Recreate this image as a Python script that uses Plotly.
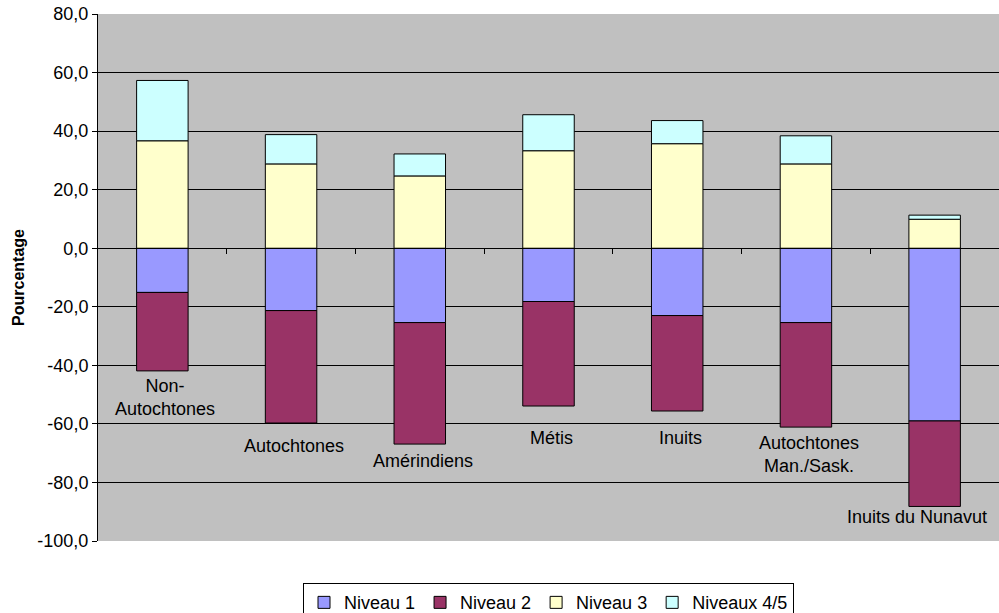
import plotly.graph_objects as go

categories = ["Non-<br>Autochtones", "Autochtones", "Amérindiens", "Métis", "Inuits",
              "Autochtones<br>Man./Sask.", "Inuits du Nunavut"]
niveau_1 = [-15.1, -21.3, -25.4, -18.2, -23.0, -25.4, -59.0]
niveau_2 = [-26.8, -38.4, -41.5, -35.7, -32.6, -35.7, -29.2]
niveau_3 = [36.7, 28.8, 24.7, 33.3, 35.7, 28.8, 9.9]
niveaux_45 = [20.6, 10.0, 7.5, 12.3, 7.9, 9.6, 1.4]
# where the category names sit (data units), as placed on the original
label_y = [-51.1, -67.6, -72.7, -64.8, -64.8, -70.3, -91.9]

y_ticks = [80, 60, 40, 20, 0, -20, -40, -60, -80, -100]
y_ticktext = [("%.1f" % v).replace(".", ",") for v in y_ticks]

xs = list(range(len(categories)))
FONT = "Liberation Sans, Arial, sans-serif"

series = [
    ("Niveau 1", niveau_1, "#9999ff"),
    ("Niveau 2", niveau_2, "#993366"),
    ("Niveau 3", niveau_3, "#ffffcc"),
    ("Niveaux 4/5", niveaux_45, "#ccffff"),
]

fig = go.Figure()
for name, vals, color in series:
    fig.add_trace(go.Bar(x=xs, y=vals, name=name, width=0.4,
                         marker=dict(color=color, line=dict(color="black", width=1))))

# category names inside the plot, below each bar
for i, cat in enumerate(categories):
    fig.add_annotation(x=i, y=label_y[i], text=cat, showarrow=False,
                       xref="x", yref="y", yanchor="middle",
                       xshift=-18 if i == len(categories) - 1 else 3,
                       font=dict(family=FONT, size=18, color="black"))

fig.update_layout(
    barmode="relative",
    width=999, height=613,
    margin=dict(l=98, r=0, t=14, b=72, autoexpand=False),
    plot_bgcolor="#c0c0c0",
    paper_bgcolor="white",
    font=dict(family=FONT, size=17, color="black"),
    legend=dict(orientation="h", x=0.5, xanchor="center", y=-0.08, yanchor="top",
                bordercolor="black", borderwidth=1, traceorder="normal",
                font=dict(family=FONT, size=18), itemwidth=30, tracegroupgap=0),
    showlegend=True,
)

fig.update_xaxes(
    range=[-0.5, len(categories) - 0.5],
    anchor="free", position=100 / 180,
    tickvals=[x + 0.5 for x in xs[:-1]],
    showticklabels=False, ticks="outside", ticklen=5, tickcolor="black",
    showline=True, linecolor="black", linewidth=1,
    showgrid=False, zeroline=False,
)
fig.update_yaxes(
    range=[-100, 80],
    tickvals=y_ticks, ticktext=y_ticktext,
    tickfont=dict(family=FONT, size=18, color="black"),
    ticklabeloverflow="allow",
    ticks="outside", ticklen=5, tickcolor="black",
    showline=True, linecolor="black", linewidth=1,
    showgrid=True, gridcolor="black", gridwidth=1,
    zeroline=False,
    title=dict(text="<b>Pourcentage</b>", font=dict(family=FONT, size=16), standoff=8),
)

# drop the default body margin so the figure fills the window exactly
fig.write_html("out.html", config={"displayModeBar": False},
               post_script="document.body.style.margin='0';")
